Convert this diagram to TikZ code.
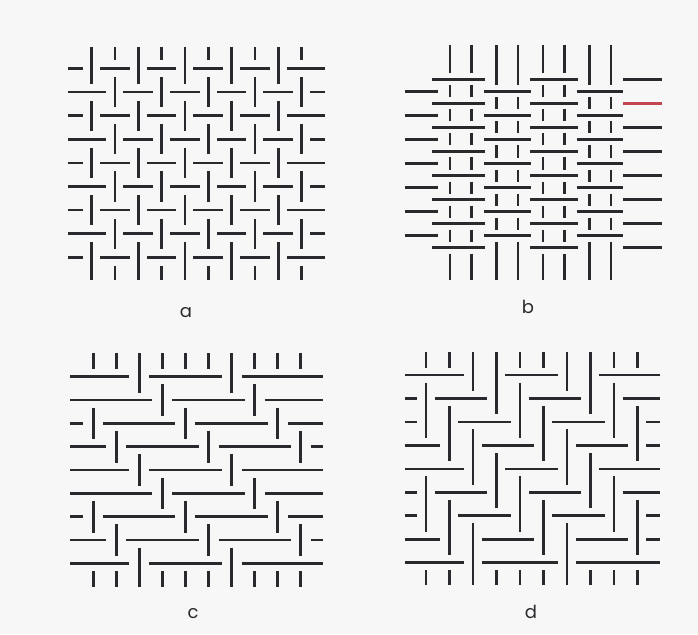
\documentclass[tikz,border=0pt]{standalone}
\usepackage{fontspec}
\setmainfont{Poppins}
\definecolor{ink}{RGB}{42,42,46}
\definecolor{paper}{RGB}{247,247,248}
\definecolor{redthr}{RGB}{195,70,80}
\tikzset{
  thr/.style={draw=ink, line width=2.6pt, line cap=butt},
  lbl/.style={font=\fontsize{18}{20}\selectfont, text=ink, inner sep=0pt}
}
% weft rows: horizontal threads broken where the warp lies over;
% an inner piece that crosses nothing is hidden and not drawn
\newcommand\wvrows{%
 \foreach \ri in {1,...,\Nr}{%
  \pgfmathsetmacro\yy{\RY}%
  \pgfmathsetmacro\tmp{\XL}\xdef\st{\tmp}%
  \xdef\fst{1}\xdef\crs{0}%
  \foreach \ci in {1,...,\Nc}{%
   \pgfmathtruncatemacro\ov{\Pred}%
   \ifnum\ov=1
     \pgfmathsetmacro\cx{\CX}%
     \pgfmathsetmacro\xe{\cx-\Gx}%
     \pgfmathtruncatemacro\ok{(\xe>\st)*((\fst+\crs)>0)}%
     \ifnum\ok=1 \draw[thr] (\st,\yy) -- (\xe,\yy);\fi
     \pgfmathsetmacro\tmp{\cx+\Gx}\xdef\st{\tmp}%
     \xdef\fst{0}\xdef\crs{0}%
   \else
     \xdef\crs{1}%
   \fi}%
  \pgfmathsetmacro\xe{\XR}%
  \pgfmathtruncatemacro\ok{\xe>\st}%
  \ifnum\ok=1 \draw[thr] (\st,\yy) -- (\xe,\yy);\fi
 }}
% warp columns: vertical threads broken where the weft lies over
\newcommand\wvcols{%
 \foreach \ci in {1,...,\Nc}{%
  \pgfmathsetmacro\xx{\CX}%
  \pgfmathsetmacro\tmp{\YT}\xdef\st{\tmp}%
  \xdef\fst{1}\xdef\crs{0}%
  \foreach \ri in {1,...,\Nr}{%
   \pgfmathtruncatemacro\ov{\Pred}%
   \ifnum\ov=0
     \pgfmathsetmacro\ry{\RY}%
     \pgfmathsetmacro\ye{\ry-\Gy}%
     \pgfmathtruncatemacro\ok{(\ye>\st)*((\fst+\crs)>0)}%
     \ifnum\ok=1 \draw[thr] (\xx,\st) -- (\xx,\ye);\fi
     \pgfmathsetmacro\tmp{\ry+\Gy}\xdef\st{\tmp}%
     \xdef\fst{0}\xdef\crs{0}%
   \else
     \xdef\crs{1}%
   \fi}%
  \pgfmathsetmacro\ye{\YB}%
  \pgfmathtruncatemacro\ok{\ye>\st}%
  \ifnum\ok=1 \draw[thr] (\xx,\st) -- (\xx,\ye);\fi
 }}
\begin{document}
\begin{tikzpicture}[x=1pt,y=-1pt]
\useasboundingbox (0,0) rectangle (698,634);
\fill[paper] (0,0) rectangle (698,634);
% ---- panel a : plain weave
\def\Nc{10}\def\Nr{9}
\def\CX{91.5+23.35*(\ci-1)}\def\RY{68.5+23.6*(\ri-1)}
\def\XL{67.5}\def\XR{325}\def\YT{47}\def\YB{280}
\def\Gx{8.5}\def\Gy{8.5}
\def\Pred{mod(\ci+\ri,2)==0}
\wvrows\wvcols
% ---- panel b : paired warps
\def\Nc{8}\def\Nr{15}
\def\CX{450+46.5*floor((\ci-1)/2)+21.5*mod(\ci-1,2)}
\def\RY{79.3+12.03*(\ri-1)}
\def\XL{405+26.7*mod(\ri,2)}\def\XR{623.3+38.4*mod(\ri,2)}
\def\YT{45}\def\YB{280}
\def\Gx{12}\def\Gy{6}
\def\Pred{mod(floor((\ci-1)/2)+\ri,2)==0}
\wvrows\wvcols
\draw[thr,draw=redthr] (623,103.4) -- (661.7,103.4);
% ---- panel c : 1/3 twill
\def\Nc{10}\def\Nr{9}
\def\CX{93.3+23.04*(\ci-1)}\def\RY{376.7+23.33*(\ri-1)}
\def\XL{70}\def\XR{323.3}\def\YT{353}\def\YB{587}
\def\Gx{10}\def\Gy{7.5}
\def\Pred{mod(\ci-\ri+12,4)==2}
\wvrows\wvcols
% ---- panel d : 2/2 twill
\def\Nc{10}\def\Nr{9}
\def\CX{426+23.48*(\ci-1)}\def\RY{375+23.46*(\ri-1)}
\def\XL{405}\def\XR{660}\def\YT{352}\def\YB{585}
\def\Gx{9}\def\Gy{7.5}
\def\Pred{(\ri<9)*(mod(\ci-\ri+12,4)>=2)+(\ri==9)*(mod(\ci-\ri+12,4)==2)}
\wvrows\wvcols
% ---- labels
\node[lbl] (la) at (186,313) {a};
\node[lbl] (lb) at (528,307) {b};
\node[lbl] (lc) at (193,614) {c};
\node[lbl] (ld) at (531,612) {d};
\end{tikzpicture}
\end{document}
